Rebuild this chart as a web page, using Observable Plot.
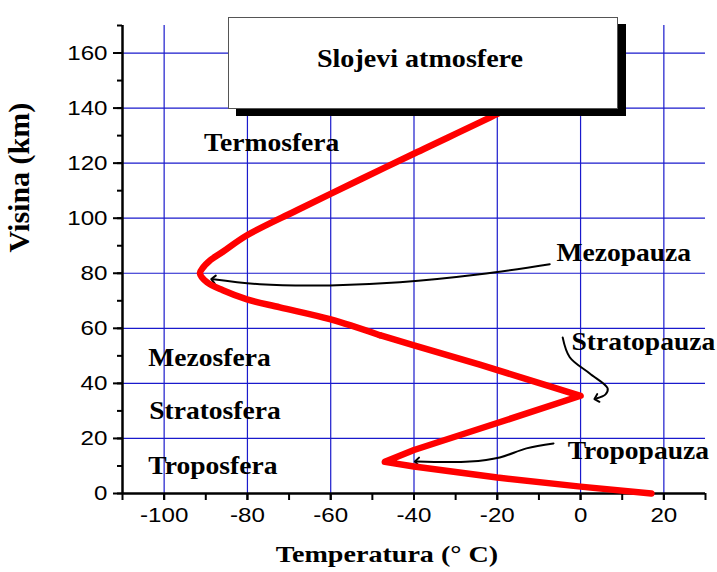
<!DOCTYPE html>
<html>
<head>
<meta charset="utf-8">
<script src="https://cdn.jsdelivr.net/npm/d3@7"></script>
<script src="https://cdn.jsdelivr.net/npm/@observablehq/plot@0.6"></script>
<style>
  body { margin: 0; background: #fff; }
  #wrap { position: relative; width: 717px; height: 572px; overflow: hidden; background: #fff; }
  #titlebox {
    position: absolute; left: 228px; top: 17px; width: 388px; height: 90px;
    background: #fff; border: 1px solid #555; box-shadow: 8px 7px 0 0 #000;
    font: bold 26px "Liberation Serif", "Times New Roman", serif; color: #000;
  }
  #titlebox span { position: absolute; left: 0; right: 6px; top: 28px; text-align: center; line-height: 26px; transform: scaleX(1.08); }
</style>
</head>
<body>
<div id="wrap">
  <div id="chart"></div>
  <div id="titlebox"><span id="titletext"></span></div>
</div>
<script>
// ---- Data ----
const chartTitle = "Slojevi atmosfere";
const xTitle = "Temperatura (° C)";
const yTitle = "Visina (km)";

// Temperature profile (°C) vs altitude (km)
// lower part (troposphere + stratosphere + lower mesosphere): sharp turns
const lowerTemp = [17, 0, -20, -40, -47, -40, -20, 0, -12.2, -24.2, -40, -48.2];
const lowerAlt  = [0, 2.5, 5.8, 9.8, 11.5, 15.8, 25.6, 35.5, 41.2, 46.8, 53.8, 57.5];
// upper part (mesosphere + thermosphere): rounded mesopause
const upperTemp = [-48.2, -60.2, -72.2, -80.1, -85.9, -89.7, -91.4, -90.6, -89.2, -85.9, -80.1, -68.1, -52.3, -39.8, -20.1, -17.3];
const upperAlt  = [57.5, 63.3, 67.6, 70.5, 73.8, 76.7, 80, 82.2, 84.4, 87.8, 93.8, 102.9, 114.5, 123.6, 137.8, 140];

// Layer labels
const layerNames = ["Termosfera", "Mezosfera", "Stratosfera", "Troposfera"];
const layerTemp  = [-90.4, -103.8, -103.6, -103.8];
const layerAlt   = [127.3, 49.5, 30.2, 10.2];

// Pause labels
const pauseNames = ["Mezopauza", "Stratopauza", "Tropopauza"];
const pauseTemp  = [-5.8, -2.2, -3.1];
const pauseAlt   = [87.6, 55, 15.6];

// Annotation arrows (hand-drawn pointers)
const mezoArrowT = [-7.4, -24.2, -43.4, -60.2, -77, -88.2];
const mezoArrowA = [83.3, 79.6, 76.7, 75.6, 76, 77.8];
const stratoArrowT = [-4.3, -2.6, 2.2, 6.5, 6, 3.8];
const stratoArrowA = [56.7, 49.5, 43.6, 38.2, 36, 34.5];
const tropoArrowT = [-6.5, -13, -19.4, -26.6, -39.3];
const tropoArrowA = [18.2, 16.4, 13.1, 11.6, 11.6];

// Axes / grid
const xDomain = [-110, 30];
const yDomain = [0, 170];
const xGrid = [-100, -80, -60, -40, -20, 0, 20];
const yGrid = [20, 40, 60, 80, 100, 120, 140, 160];
const xMinorTicks = d3.range(-110, 31, 10);
const xMajorTicks = [-100, -80, -60, -40, -20, 0, 20];
const yMinorTicks = d3.range(0, 171, 10);
const yMajorTicks = [0, 20, 40, 60, 80, 100, 120, 140, 160];

// ---- Build ----
const zip = (a, b) => a.map((v, i) => ({x: v, y: b[i]}));
const lower = zip(lowerTemp, lowerAlt);
const upper = zip(upperTemp, upperAlt);
const layers = layerNames.map((n, i) => ({name: n, x: layerTemp[i], y: layerAlt[i]}));
const pauses = pauseNames.map((n, i) => ({name: n, x: pauseTemp[i], y: pauseAlt[i]}));
const arrows = [zip(mezoArrowT, mezoArrowA), zip(stratoArrowT, stratoArrowA), zip(tropoArrowT, tropoArrowA)];

const grid = "#1a1acc";
const serif = "Liberation Serif, Times New Roman, serif";
const sans = "Liberation Sans, Arial, sans-serif";
const red = {x: "x", y: "y", stroke: "#ff0000", strokeWidth: 6.5, strokeLinejoin: "round", strokeLinecap: "round"};

const chart = Plot.plot({
  width: 717,
  height: 572,
  marginLeft: 122,
  marginRight: 12,
  marginTop: 25,
  marginBottom: 79,
  style: {fontFamily: sans, fontSize: "21px", color: "#000", background: "#fff"},
  x: {domain: xDomain, axis: null},
  y: {domain: yDomain, axis: null},
  marks: [
    Plot.ruleX(xGrid, {stroke: grid, strokeWidth: 1.2}),
    Plot.ruleY(yGrid, {stroke: grid, strokeWidth: 1.2}),
    Plot.axisX(xMinorTicks, {tickSize: 7, tickFormat: () => "", strokeWidth: 2, label: null}),
    Plot.axisX(xMajorTicks, {tickSize: 7, tickPadding: 7, tickFormat: d => String(d), fontSize: 21, fontFamily: sans, strokeWidth: 2, label: null}),
    Plot.axisY(yMinorTicks, {tickSize: 5, tickFormat: () => "", strokeWidth: 2, label: null}),
    Plot.axisY(yMajorTicks, {tickSize: 9, tickPadding: 6, tickFormat: d => String(d), fontSize: 21, fontFamily: sans, strokeWidth: 2, label: null}),
    Plot.ruleX([xDomain[0]], {stroke: "#000", strokeWidth: 2.5}),
    Plot.ruleY([yDomain[0]], {stroke: "#000", strokeWidth: 2.5}),
    ...arrows.map(a => Plot.line(a, {x: "x", y: "y", curve: "catmull-rom", stroke: "#000", strokeWidth: 2, markerEnd: "arrow"})),
    Plot.line(lower, {...red, curve: "linear"}),
    Plot.line(upper, {...red, curve: "catmull-rom"}),
    Plot.text(layers, {x: "x", y: "y", text: "name", textAnchor: "start", fontFamily: serif, fontWeight: "bold", fontSize: 26, fill: "#000"}),
    Plot.text(pauses, {x: "x", y: "y", text: "name", textAnchor: "start", fontFamily: serif, fontWeight: "bold", fontSize: 26, fill: "#000"}),
    Plot.text([xTitle], {frameAnchor: "bottom", dx: -27, dy: 68, text: d => d, fontFamily: serif, fontWeight: "bold", fontSize: 24, fill: "#000"}),
    Plot.text([yTitle], {frameAnchor: "left", dx: -103, dy: -7, rotate: -90, text: d => d, fontFamily: serif, fontWeight: "bold", fontSize: 30, fill: "#000"})
  ]
});
document.getElementById("chart").appendChild(chart);
document.getElementById("titletext").textContent = chartTitle;

// Widen glyphs horizontally to match the reference's wide lettering
d3.select(chart).selectAll("text").each(function() {
  const tr = this.getAttribute("transform") || "";
  if (tr.includes("rotate")) return;
  const cs = getComputedStyle(this);
  const size = parseFloat(cs.fontSize);
  const isSerif = cs.fontFamily.includes("Serif");
  let f = 1;
  if (isSerif && size >= 25) f = 1.06;
  else if (isSerif) f = 1.17;
  else f = 1.15;
  const L = this.getComputedTextLength();
  if (L > 0) {
    this.setAttribute("textLength", (L * f).toFixed(1));
    this.setAttribute("lengthAdjust", "spacingAndGlyphs");
  }
});
</script>
</body>
</html>
